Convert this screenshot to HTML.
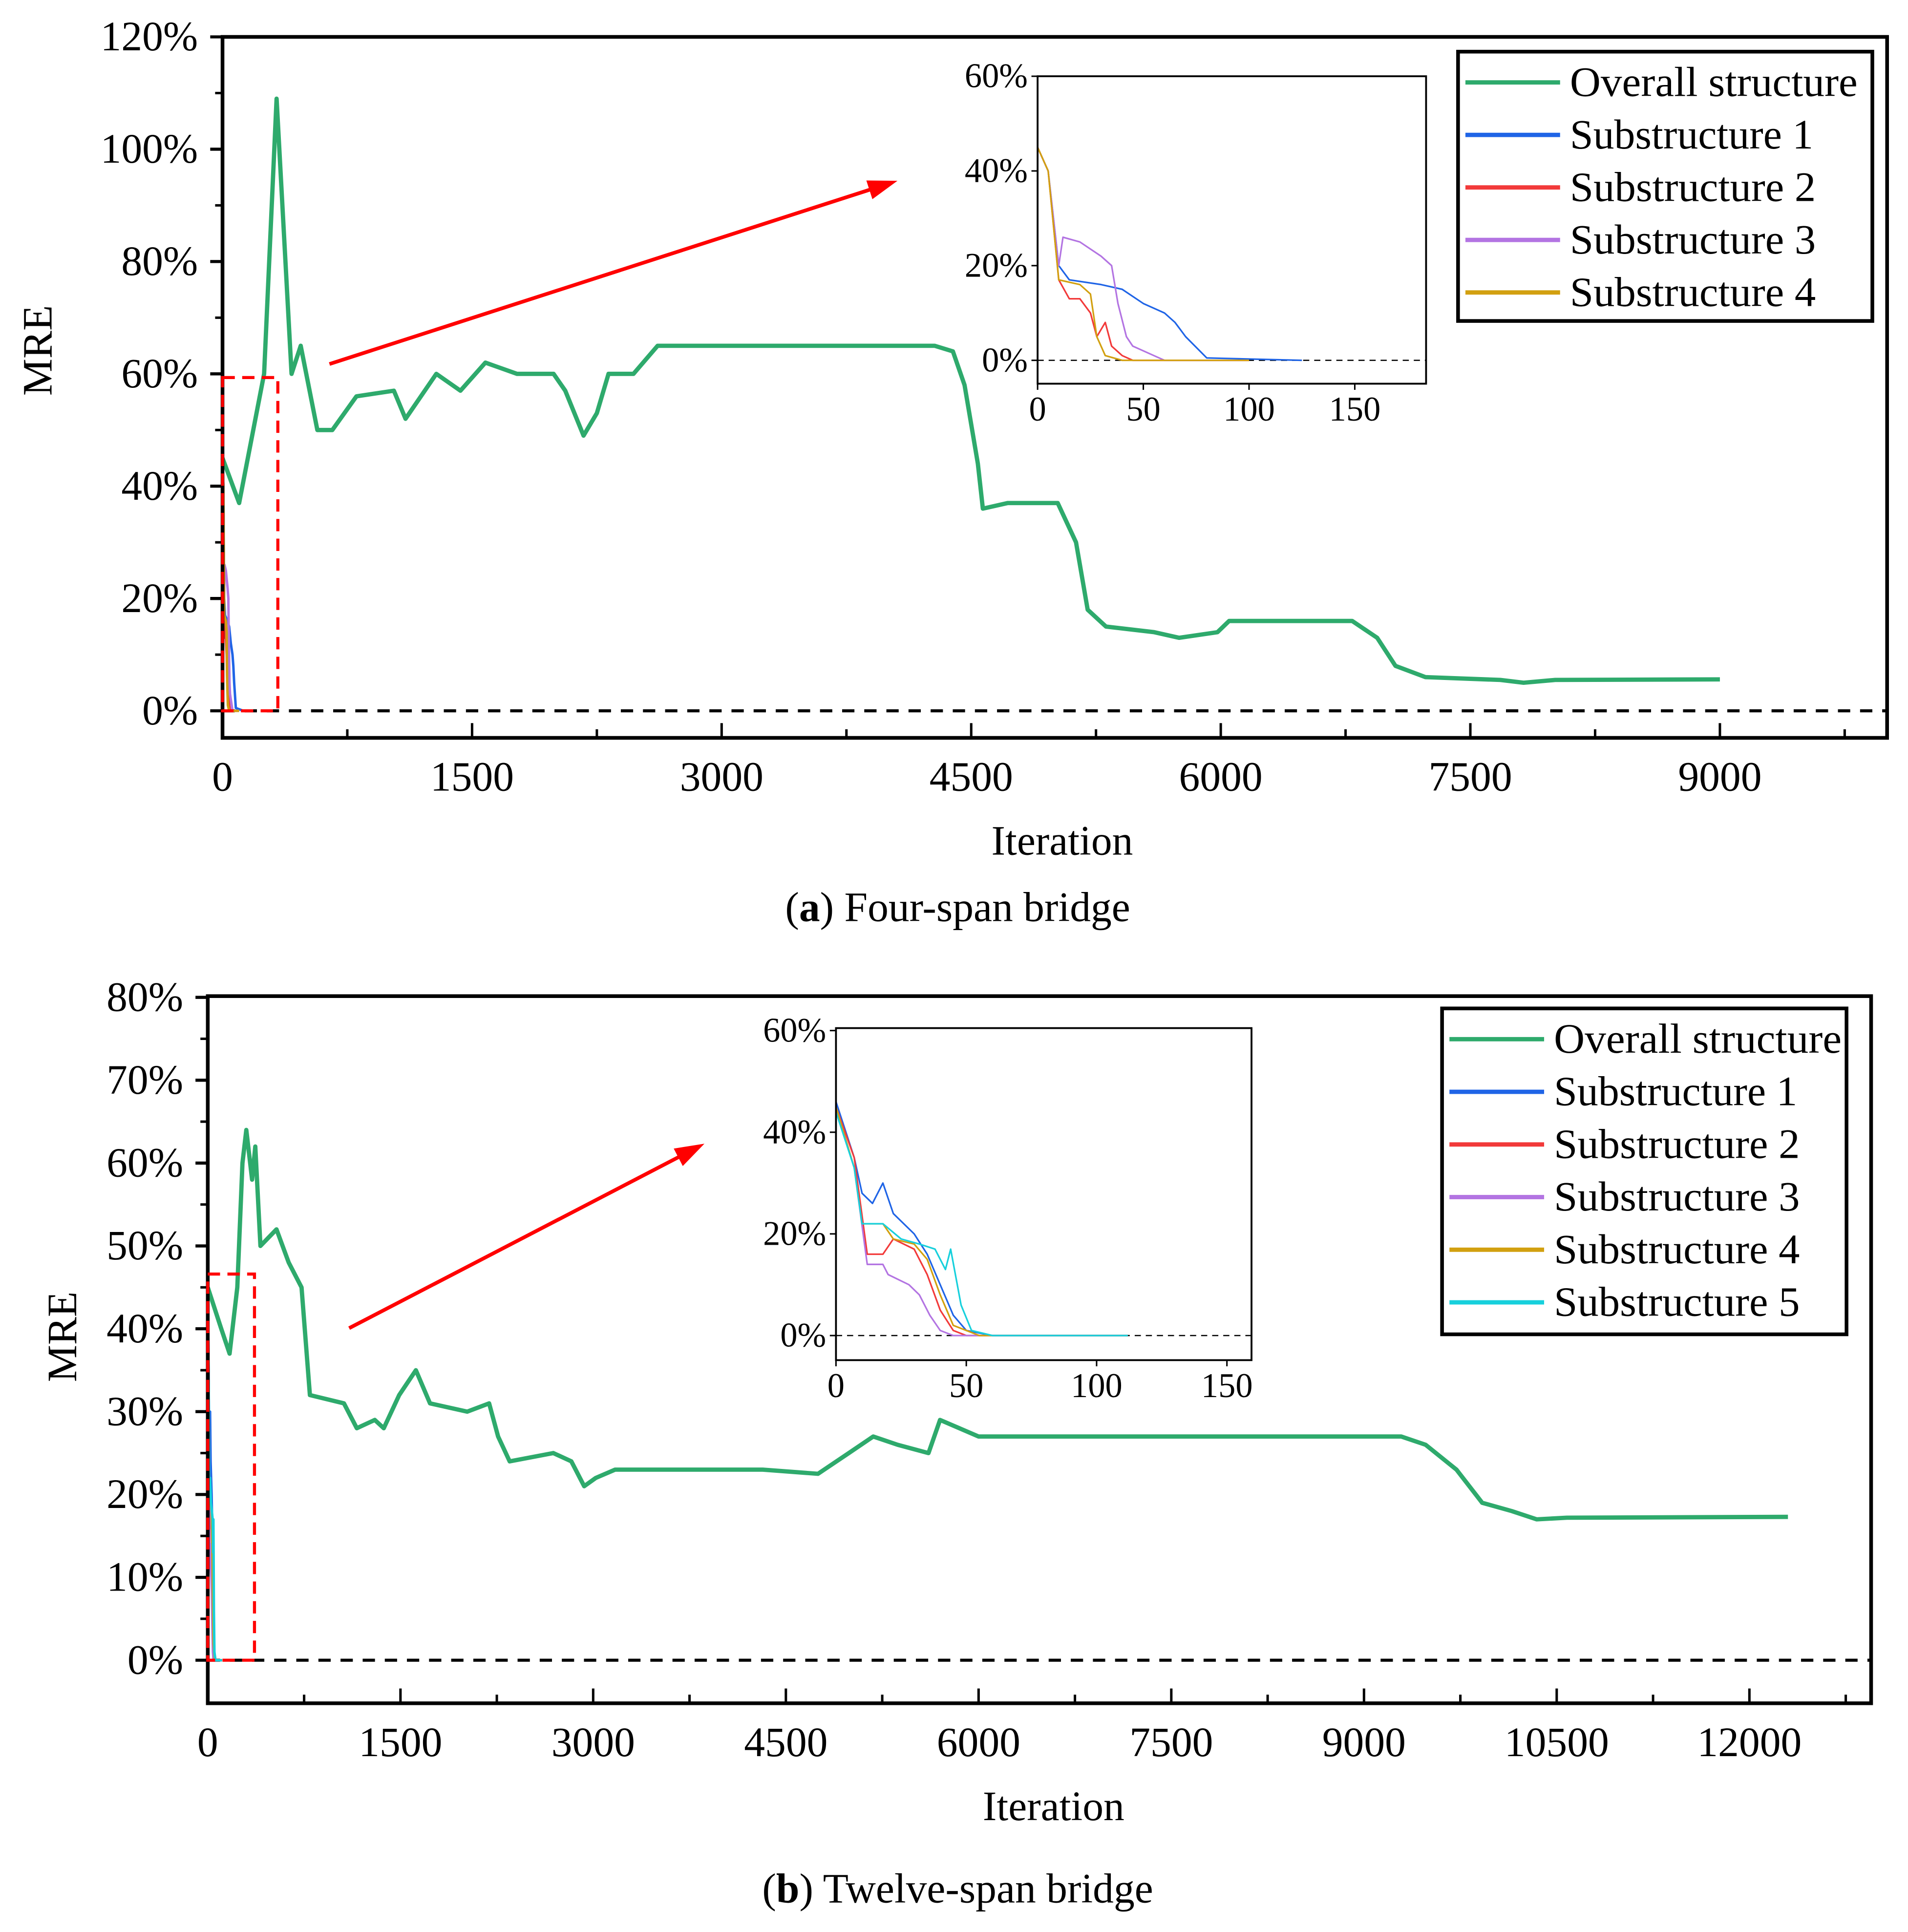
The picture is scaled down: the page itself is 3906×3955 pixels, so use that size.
<!DOCTYPE html>
<html><head><meta charset="utf-8"><style>
html,body{margin:0;padding:0;background:#fff;}
svg{display:block;}
text{font-family:"Liberation Serif",serif;fill:#000;}
</style></head><body>
<svg id="fig" width="3906" height="3955" viewBox="0 0 1552 1571" preserveAspectRatio="none" xmlns="http://www.w3.org/2000/svg">
<rect width="1552" height="1571" fill="#fff"/>
</svg>
<script>
// ---- Chart (a) data ----
const aIter=[0,100,250,325,415,470,570,660,805,1030,1100,1285,1430,1580,1770,1990,2060,2170,2250,2320,2470,2615,4280,4390,4460,4540,4570,4720,5020,5130,5200,5310,5600,5750,5980,6050,6790,6940,7050,7230,7680,7820,8010,9000];
const aOverall=[45,37,60,109,60,65,50,50,56,57,52,60,57,62,60,60,57,49,53,60,60,65,65,64,58,44,36,37,37,30,18,15,14,13,14,16,16,13,8,6,5.5,5,5.5,5.6];
const aS1It=[0,5,10,15,30,40,50,60,65,70,80,125], aS1=[45,40,20,17,16,15,12,10,8,5,0.5,0];
const aS2It=[0,5,10,15,20,25,28,32,35,40,45,100], aS2=[45,40,17,13,13,10,5,8,3,1,0,0];
const aS3It=[0,5,10,12,20,30,35,38,42,45,55,60,100], aS3=[45,40,20,26,25,22,20,12,5,3,1,0,0];
const aS4It=[0,5,10,20,25,28,32,40,100], aS4=[45,40,17,16,14,5,1,0,0];
const aXTicks=[0,1500,3000,4500,6000,7500,9000];
const aYTicks=[0,20,40,60,80,100,120];
// ---- Chart (b) data ----
const bIter=[0,105,170,230,270,300,345,370,410,535,630,730,795,1060,1160,1300,1370,1490,1620,1730,2020,2190,2260,2350,2690,2830,2930,3020,3170,4320,4750,4990,5180,5370,5610,5700,5850,6000,9100,9290,9480,9720,9820,9920,10150,10345,10580,12300];
const bOverall=[45,40,37,45,60,64,58,62,50,52,48,45,32,31,28,29,28,32,35,31,30,31,27,24,25,24,21,22,23,23,22.5,25,27,26,25,29,28,27,27,27,26,23,21,19,18,17,17.2,17.3];
const bS1It=[0,7,10,14,18,22,30,35,40,45,50,60,112], bS1=[46,35,28,26,30,24,20,16,10,4,1,0,0];
const bS2It=[0,7,12,18,22,30,35,40,45,50,112], bS2=[45,35,16,16,19,17,12,5,1,0,0];
const bS3It=[0,7,12,18,20,28,32,36,40,45,112], bS3=[45,33,14,14,12,10,8,4,1,0,0];
const bS4It=[0,7,10,18,22,30,35,40,45,55,112], bS4=[45,33,22,22,19,18,15,8,2,0,0];
const bS5It=[0,7,10,18,25,32,38,42,44,48,52,60,112], bS5=[44,33,22,22,19,18,17,13,17,6,1,0,0];
const bXTicks=[0,1500,3000,4500,6000,7500,9000,10500,12000];
const bYTicks=[0,10,20,30,40,50,60,70,80];
const insetXTicks=[0,50,100,150];
const insetYTicks=[0,20,40,60];

const NS='http://www.w3.org/2000/svg';
const svg=document.getElementById('fig');
function el(tag,attrs,parent,txt){const e=document.createElementNS(NS,tag);for(const k in attrs)e.setAttribute(k,attrs[k]);if(txt!==undefined)e.textContent=txt;(parent||svg).appendChild(e);return e;}
function path(xs,ys,sx,sy){return xs.map((x,i)=>(i?'L':'M')+sx(x).toFixed(2)+','+sy(ys[i]).toFixed(2)).join(' ');}
const GREEN='#2eaa6c',BLUE='#1f64e6',RED='#f23a3a',PURP='#b374e2',GOLD='#d2a010',CYAN='#17d0dc';

function drawLine(xs,ys,sx,sy,color,w,name){
  const p=el('path',{d:path(xs,ys,sx,sy),fill:'none',stroke:color,'stroke-width':w,'stroke-linejoin':'round'});
  
  
  return p;
}

function mainChart(o){
  const sx=v=>o.x0+v*o.kx, sy=v=>o.y0-v*o.ky;
  const z=el('line',{x1:o.L,x2:o.R,y1:sy(0),y2:sy(0),stroke:'#000','stroke-width':2.5,'stroke-dasharray':'10,8'});
  
  
  for(const t of o.xt){
    const tk=el('line',{x1:sx(t),x2:sx(t),y1:o.B,y2:o.B-12,stroke:'#000','stroke-width':2});
    
    
    const m=sx(t+o.xt[1]/2);
    if(m<o.R-2){const mt=el('line',{x1:m,x2:m,y1:o.B,y2:o.B-7,stroke:'#000','stroke-width':2});
      
      }
    const lb=el('text',{x:sx(t),y:o.B+43,'font-size':34,'text-anchor':'middle'},svg,String(t));
    
    
  }
  for(const t of o.yt){
    const tk=el('line',{x1:o.L-10,x2:o.L,y1:sy(t),y2:sy(t),stroke:'#000','stroke-width':2.5});
    
    
    const m=sy(t+o.yt[1]/2);
    if(m>o.T+2){const mt=el('line',{x1:o.L-6,x2:o.L,y1:m,y2:m,stroke:'#000','stroke-width':2});
      
      }
    const lb=el('text',{x:o.L-20,y:sy(t)+11,'font-size':34,'text-anchor':'end'},svg,t+'%');
    
    
  }
  o.subs.forEach((s,i)=>drawLine(s[0],s[1],sx,sy,s[2],2,o.id+'-substructure-'+(i+1)+'-line'));
  drawLine(o.ovX,o.ovY,sx,sy,GREEN,3.5,o.id+'-overall-line');
  const f=el('rect',{x:o.L,y:o.T,width:o.R-o.L,height:o.B-o.T,fill:'none',stroke:'#000','stroke-width':3});
  
  
  const zb=el('rect',{x:o.L,y:o.box[1],width:o.box[0]-o.L,height:sy(0)-o.box[1],fill:'none',stroke:'#f00','stroke-width':2.5,'stroke-dasharray':'10,6'});
  
  
  const a=o.arrow, ang=Math.atan2(a[3]-a[1],a[2]-a[0]);
  const ar=el('line',{x1:a[0],y1:a[1],x2:a[2]-14*Math.cos(ang),y2:a[3]-14*Math.sin(ang),stroke:'#f00','stroke-width':3});
  
  
  const hx=a[2],hy=a[3],p1=[hx-24*Math.cos(ang)+8*Math.sin(ang),hy-24*Math.sin(ang)-8*Math.cos(ang)],p2=[hx-24*Math.cos(ang)-8*Math.sin(ang),hy-24*Math.sin(ang)+8*Math.cos(ang)];
  const ah=el('polygon',{points:`${hx},${hy} ${p1} ${p2}`,fill:'#f00'});
  
  
  const xt=el('text',{x:o.xTitleX,y:o.B+95,'font-size':34,'text-anchor':'middle'},svg,'Iteration');
  
  
  const yt=el('text',{x:0,y:0,'font-size':34,'text-anchor':'middle',transform:`translate(${o.yTitleX},${o.yTitleY}) rotate(-90)`},svg,'MRE');
  
  
}

function inset(o){
  const sx=v=>o.L+v*o.kx, sy=v=>o.y0-v*o.ky;
  const bg=el('rect',{x:o.L,y:o.T,width:o.R-o.L,height:o.B-o.T,fill:'#fff'});
  
  
  const z=el('line',{x1:o.L,x2:o.R,y1:sy(0),y2:sy(0),stroke:'#000','stroke-width':1,'stroke-dasharray':'5,4'});
  
  
  o.subs.forEach((s,i)=>drawLine(s[0],s[1],sx,sy,s[2],1.3,o.id+'-inset-substructure-'+(i+1)+'-line'));
  const f=el('rect',{x:o.L,y:o.T,width:o.R-o.L,height:o.B-o.T,fill:'none',stroke:'#000','stroke-width':1.5});
  
  
  for(const t of insetXTicks){
    const tk=el('line',{x1:sx(t),x2:sx(t),y1:o.B,y2:o.B+5,stroke:'#000','stroke-width':1.2});
    
    
    const lb=el('text',{x:sx(t),y:o.B+30,'font-size':28,'text-anchor':'middle'},svg,String(t));
    
    
  }
  for(const t of insetYTicks){
    const tk=el('line',{x1:o.L-5,x2:o.L,y1:sy(t),y2:sy(t),stroke:'#000','stroke-width':1.2});
    
    
    const lb=el('text',{x:o.L-8,y:sy(t)+9,'font-size':28,'text-anchor':'end'},svg,t+'%');
    
    
  }
}

function legend(o){
  const g=el('g',{});
  
  
  el('rect',{x:o.x,y:o.y,width:o.w,height:o.h,fill:'#fff',stroke:'#000','stroke-width':3},g);
  o.items.forEach((it,i)=>{
    const yy=o.y+25+i*o.step;
    const ln=el('line',{x1:o.x+6,x2:o.x+83,y1:yy,y2:yy,stroke:it[1],'stroke-width':3.5},g);
    
    
    const t=el('text',{x:o.x+91,y:yy+11,'font-size':34,textLength:it[2],lengthAdjust:'spacingAndGlyphs'},g,it[0]);
    
    
  });
}

mainChart({id:'chart-a',L:181,R:1535,T:30,B:600,x0:181,kx:203/1500,y0:578,ky:548/120,xt:aXTicks,yt:aYTicks,
  ovX:aIter,ovY:aOverall,subs:[[aS1It,aS1,BLUE],[aS2It,aS2,RED],[aS3It,aS3,PURP],[aS4It,aS4,GOLD]],
  box:[226,307],arrow:[268,296,730,147],yTitleX:42,yTitleY:285,xTitleX:864});
inset({id:'chart-a',L:844,R:1160,T:62,B:312,kx:1.72,y0:293,ky:231/60,
  subs:[[aS1It,aS1,BLUE],[aS2It,aS2,RED],[aS3It,aS3,PURP],[aS4It,aS4,GOLD]]});
legend({id:'chart-a',x:1186,y:42,w:337,h:219,step:42.7,items:[['Overall structure',GREEN,234],['Substructure 1',BLUE,198],['Substructure 2',RED,200],['Substructure 3',PURP,200],['Substructure 4',GOLD,200]]});
const capA=el('text',{x:779,y:749,'font-size':34,'text-anchor':'middle'});


capA.innerHTML='(<tspan font-weight="bold">a</tspan>) Four-span bridge';

mainChart({id:'chart-b',L:169,R:1522,T:810,B:1385,x0:169,kx:156.75/1500,y0:1350,ky:539/80,xt:bXTicks,yt:bYTicks,
  ovX:bIter,ovY:bOverall,subs:[[bS1It,bS1,BLUE],[bS2It,bS2,RED],[bS3It,bS3,PURP],[bS4It,bS4,GOLD],[bS5It,bS5,CYAN]],
  box:[207,1036],arrow:[284,1080,573,930],yTitleX:62,yTitleY:1087,xTitleX:857});
inset({id:'chart-b',L:680,R:1018,T:836,B:1106,kx:2.12,y0:1086,ky:248/60,
  subs:[[bS1It,bS1,BLUE],[bS2It,bS2,RED],[bS3It,bS3,PURP],[bS4It,bS4,GOLD],[bS5It,bS5,CYAN]]});
legend({id:'chart-b',x:1173,y:820,w:329,h:265,step:42.8,items:[['Overall structure',GREEN,234],['Substructure 1',BLUE,198],['Substructure 2',RED,200],['Substructure 3',PURP,200],['Substructure 4',GOLD,200],['Substructure 5',CYAN,200]]});
const capB=el('text',{x:779,y:1547,'font-size':34,'text-anchor':'middle'});


capB.innerHTML='(<tspan font-weight="bold">b</tspan>) Twelve-span bridge';
</script>
</body></html>
